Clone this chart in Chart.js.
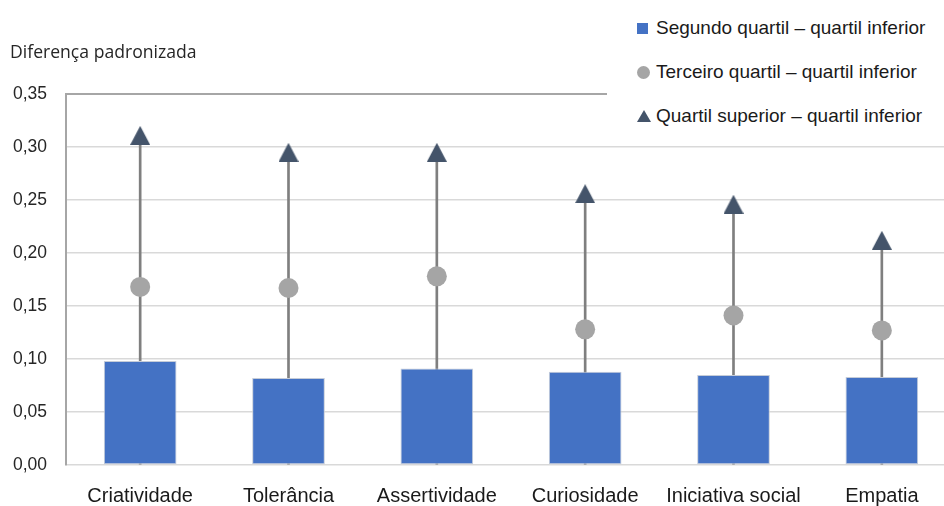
<!DOCTYPE html>
<html>
<head>
<meta charset="utf-8">
<script src="https://cdn.jsdelivr.net/npm/chart.js@4"></script>
<style>
  html, body { margin: 0; padding: 0; background: #fff; overflow: hidden; }
  #wrap { position: relative; width: 944px; height: 506px; overflow: hidden; }
  #box { position: absolute; left: 0; top: 0; width: 967px; height: 506px; }
  #title { position: absolute; left: 10px; top: 39px; font: 17.6px "Open Sans", sans-serif; color: #262626; }
  #legend { position: absolute; left: 607px; top: 0; width: 337px; height: 136px; background: #fff; }
  .item { position: absolute; left: 30px; height: 24px; display: flex; align-items: center;
          font: 19px "Liberation Sans", Arial, sans-serif; color: #1a1a1a; white-space: nowrap; }
  .mk { width: 16px; display: flex; justify-content: flex-start; align-items: center; margin-right: 3px; }
</style>
</head>
<body>
<div id="wrap">
  <div id="box"><canvas id="c" width="967" height="506"></canvas></div>
  <div id="title">Diferença padronizada</div>
  <div id="legend"></div>
</div>
<script>
// Categorias e séries
const categories = ['Criatividade', 'Tolerância', 'Assertividade', 'Curiosidade', 'Iniciativa social', 'Empatia'];
const seriesNames = [
  'Segundo quartil \u2013 quartil inferior',
  'Terceiro quartil \u2013 quartil inferior',
  'Quartil superior \u2013 quartil inferior'
];
const segundoQuartil = [0.098, 0.082, 0.091, 0.088, 0.085, 0.083];
const terceiroQuartil = [0.168, 0.167, 0.178, 0.128, 0.141, 0.127];
const quartilSuperior = [0.311, 0.295, 0.295, 0.256, 0.246, 0.212];
const yTicks = [0, 0.05, 0.10, 0.15, 0.20, 0.25, 0.30, 0.35];

const BLUE = '#4472C4', GREY = '#A5A5A5', NAVY = '#44546A', STEM = '#7F7F7F';

// Marcador triangular (centro da caixa no valor)
function triangleSprite(w, h, color) {
  const cv = document.createElement('canvas');
  cv.width = w; cv.height = h;
  const g = cv.getContext('2d');
  g.fillStyle = color;
  g.beginPath();
  g.moveTo(w / 2, 0);
  g.lineTo(w, h);
  g.lineTo(0, h);
  g.closePath();
  g.fill();
  return cv;
}
const tri = triangleSprite(20, 19, NAVY);

new Chart(document.getElementById('c'), {
  type: 'bar',
  data: {
    labels: categories,
    datasets: [
      {
        type: 'line', label: seriesNames[2], data: quartilSuperior, showLine: false,
        pointStyle: tri, pointRadius: 10, pointHoverRadius: 10, order: 0
      },
      {
        type: 'line', label: seriesNames[1], data: terceiroQuartil, showLine: false,
        pointStyle: 'circle', pointRadius: 10, pointHoverRadius: 10,
        pointBackgroundColor: GREY, pointBorderWidth: 0, order: 0
      },
      {
        label: seriesNames[0], data: segundoQuartil, backgroundColor: BLUE,
        borderColor: '#C5CCD8', borderWidth: 1, borderSkipped: false,
        barPercentage: 0.49, categoryPercentage: 1, grouped: false, order: 1
      },
      {
        label: 'haste', data: quartilSuperior.map(v => [0, v]), backgroundColor: STEM,
        barThickness: 2, grouped: false, order: 2
      }
    ]
  },
  options: {
    responsive: false,
    animation: false,
    devicePixelRatio: 1,
    layout: { padding: { top: 94, right: 3, left: 0, bottom: 0 } },
    plugins: { legend: { display: false }, tooltip: { enabled: false } },
    scales: {
      x: {
        grid: { display: false, drawTicks: false },
        border: { display: false },
        ticks: { padding: 19, color: '#1a1a1a', font: { family: 'Liberation Sans', size: 20 } },
        afterFit: s => { s.height = 41; }
      },
      y: {
        min: 0, max: 0.35,
        afterBuildTicks: s => { s.ticks = yTicks.map(v => ({ value: v })); },
        grid: {
          drawTicks: false,
          color: c => (c.tick && Math.abs(c.tick.value - 0.35) < 1e-9) ? '#A6A6A6' : '#D9D9D9',
          lineWidth: c => (c.tick && Math.abs(c.tick.value - 0.35) < 1e-9) ? 2 : 1.5
        },
        border: { display: true, color: '#A6A6A6', width: 2 },
        ticks: {
          padding: 19, color: '#262626',
          font: { family: 'Liberation Sans', size: 17.5 },
          callback: v => Number(v).toFixed(2).replace('.', ',')
        },
        afterFit: s => { s.width = 66; }
      }
    }
  }
});

// Legenda
const legend = document.getElementById('legend');
const markers = [
  '<div style="width:11px;height:11px;background:' + BLUE + '"></div>',
  '<div style="width:13px;height:13px;border-radius:50%;background:' + GREY + '"></div>',
  '<div style="width:0;height:0;border-left:7px solid transparent;border-right:7px solid transparent;border-bottom:12px solid ' + NAVY + '"></div>'
];
const centers = [28, 72, 116];
seriesNames.forEach((name, i) => {
  const it = document.createElement('div');
  it.className = 'item';
  it.style.top = (centers[i] - 12) + 'px';
  it.innerHTML = '<div class="mk">' + markers[i] + '</div><span>' + name + '</span>';
  legend.appendChild(it);
});
</script>
</body>
</html>
